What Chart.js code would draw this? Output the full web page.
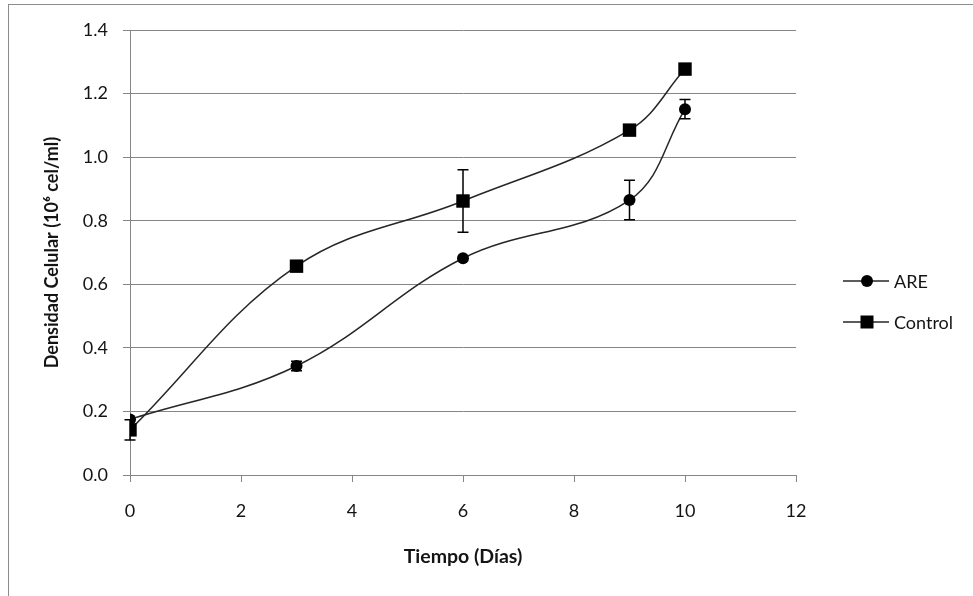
<!DOCTYPE html>
<html>
<head>
<meta charset="utf-8">
<script src="https://cdn.jsdelivr.net/npm/chart.js@4.4.0/dist/chart.umd.min.js"></script>
<style>
  html, body { margin: 0; padding: 0; background: #fff; }
  #wrap { position: relative; width: 973px; height: 596px; overflow: hidden; }
  #frame { position: absolute; left: 8px; top: 4px; width: 1000px; height: 700px; border: 1px solid #8c8c8c; box-sizing: border-box; }
  canvas { position: absolute; left: 0; top: 0; }
</style>
</head>
<body>
<div id="wrap">
  <div id="frame"></div>
  <canvas id="c" width="973" height="596"></canvas>
</div>
<script>
// ---- data ----
const days = [0, 3, 6, 9, 10];
const areValues = [0.175, 0.343, 0.682, 0.865, 1.151];
const areErrors = [0.0, 0.015, 0.0, 0.062, 0.03];
const controlValues = [0.142, 0.657, 0.862, 1.085, 1.277];
const controlErrors = [0.032, 0.0, 0.098, 0.0, 0.0];
const seriesNames = ['ARE', 'Control'];
const xTicks = [0, 2, 4, 6, 8, 10, 12];
const yTicks = [0.0, 0.2, 0.4, 0.6, 0.8, 1.0, 1.2, 1.4];

const FONT = 'Lato, "Open Sans", sans-serif';
const LINE = '#262626';
const TEXT = '#141414';

function pts(xs, ys) { return xs.map((x, i) => ({ x: x, y: ys[i] })); }

const errorBars = {
  id: 'errorBars',
  afterDatasetsDraw(chart) {
    const ctx = chart.ctx, xs = chart.scales.x, ys = chart.scales.y;
    ctx.save();
    ctx.strokeStyle = '#000';
    ctx.lineWidth = 1.5;
    chart.data.datasets.forEach(ds => {
      const errs = ds.errors || [];
      ds.data.forEach((p, i) => {
        const e = errs[i];
        if (!e) return;
        const px = xs.getPixelForValue(p.x);
        const top = ys.getPixelForValue(p.y + e);
        const bot = ys.getPixelForValue(p.y - e);
        ctx.beginPath();
        ctx.moveTo(px, top); ctx.lineTo(px, bot);
        ctx.moveTo(px - 5.5, top); ctx.lineTo(px + 5.5, top);
        ctx.moveTo(px - 5.5, bot); ctx.lineTo(px + 5.5, bot);
        ctx.stroke();
      });
    });
    ctx.restore();
  }
};

const customLegend = {
  id: 'customLegend',
  afterDraw(chart) {
    const ctx = chart.ctx;
    const x0 = 843, x1 = 889, xm = 867, tx = 894;
    const rowY = [281, 322];
    ctx.save();
    chart.data.datasets.forEach((ds, i) => {
      const y = rowY[i];
      ctx.strokeStyle = LINE;
      ctx.lineWidth = 1.5;
      ctx.beginPath(); ctx.moveTo(x0, y); ctx.lineTo(x1, y); ctx.stroke();
      ctx.fillStyle = '#000';
      ctx.beginPath();
      if (ds.pointStyle === 'rect') {
        ctx.rect(xm - 6.5, y - 6.5, 13, 13);
      } else {
        ctx.arc(xm, y, 6, 0, Math.PI * 2);
      }
      ctx.fill();
      ctx.fillStyle = TEXT;
      ctx.font = '18px ' + FONT;
      ctx.textAlign = 'left';
      ctx.textBaseline = 'middle';
      ctx.fillText(ds.label, tx, y + 1);
    });
    ctx.restore();
  }
};

function build() {
  new Chart(document.getElementById('c'), {
    type: 'line',
    data: {
      datasets: [
        {
          label: seriesNames[0],
          data: pts(days, areValues),
          errors: areErrors,
          borderColor: LINE,
          borderWidth: 1.5,
          backgroundColor: '#000',
          pointStyle: 'circle',
          pointRadius: 6,
          pointBorderWidth: 0,
          pointBackgroundColor: '#000',
          tension: 0.38,
          fill: false
        },
        {
          label: seriesNames[1],
          data: pts(days, controlValues),
          errors: controlErrors,
          borderColor: LINE,
          borderWidth: 1.5,
          backgroundColor: '#000',
          pointStyle: 'rect',
          pointRadius: 9.5,
          pointBorderWidth: 0,
          pointBackgroundColor: '#000',
          tension: 0.38,
          fill: false
        }
      ]
    },
    options: {
      responsive: false,
      animation: false,
      events: [],
      layout: { padding: { left: 36, top: 30, right: 177, bottom: 24 } },
      plugins: {
        legend: { display: false },
        tooltip: { enabled: false }
      },
      scales: {
        x: {
          type: 'linear',
          min: 0, max: 12,
          afterBuildTicks(scale) { scale.ticks = xTicks.map(v => ({ value: v })); },
          afterFit(scale) { scale.height = 596 - 475 - 24; },
          grid: {
            drawOnChartArea: false,
            drawTicks: true,
            tickLength: 7,
            color: '#868686',
            lineWidth: 1
          },
          border: { color: '#868686', width: 1 },
          ticks: {
            padding: 18,
            color: TEXT,
            font: { family: FONT, size: 18 },
            maxRotation: 0,
            callback: v => String(v)
          },
          title: {
            display: true,
            text: 'Tiempo (Días)',
            color: TEXT,
            font: { family: FONT, size: 19.5, weight: 'bold' },
            padding: { top: 4, bottom: 4 }
          }
        },
        y: {
          type: 'linear',
          min: 0, max: 1.4,
          afterBuildTicks(scale) { scale.ticks = yTicks.map(v => ({ value: v })); },
          afterFit(scale) { scale.width = 130 - 36; },
          grid: {
            drawOnChartArea: true,
            drawTicks: true,
            tickLength: 7,
            color: '#868686',
            lineWidth: 1
          },
          border: { color: '#868686', width: 1 },
          ticks: {
            padding: 15,
            color: TEXT,
            font: { family: FONT, size: 18 },
            callback: v => Number(v).toFixed(1)
          },
          title: {
            display: true,
            text: 'Densidad Celular (10⁶ cel/ml)',
            color: TEXT,
            font: { family: FONT, size: 18, weight: 'bold' },
            padding: { top: 5, bottom: 4 }
          }
        }
      }
    },
    plugins: [errorBars, customLegend]
  });
}

if (document.fonts && document.fonts.load) {
  Promise.all([
    document.fonts.load('18px Lato'),
    document.fonts.load('bold 18px Lato')
  ]).then(build, build);
} else {
  build();
}
</script>
</body>
</html>
